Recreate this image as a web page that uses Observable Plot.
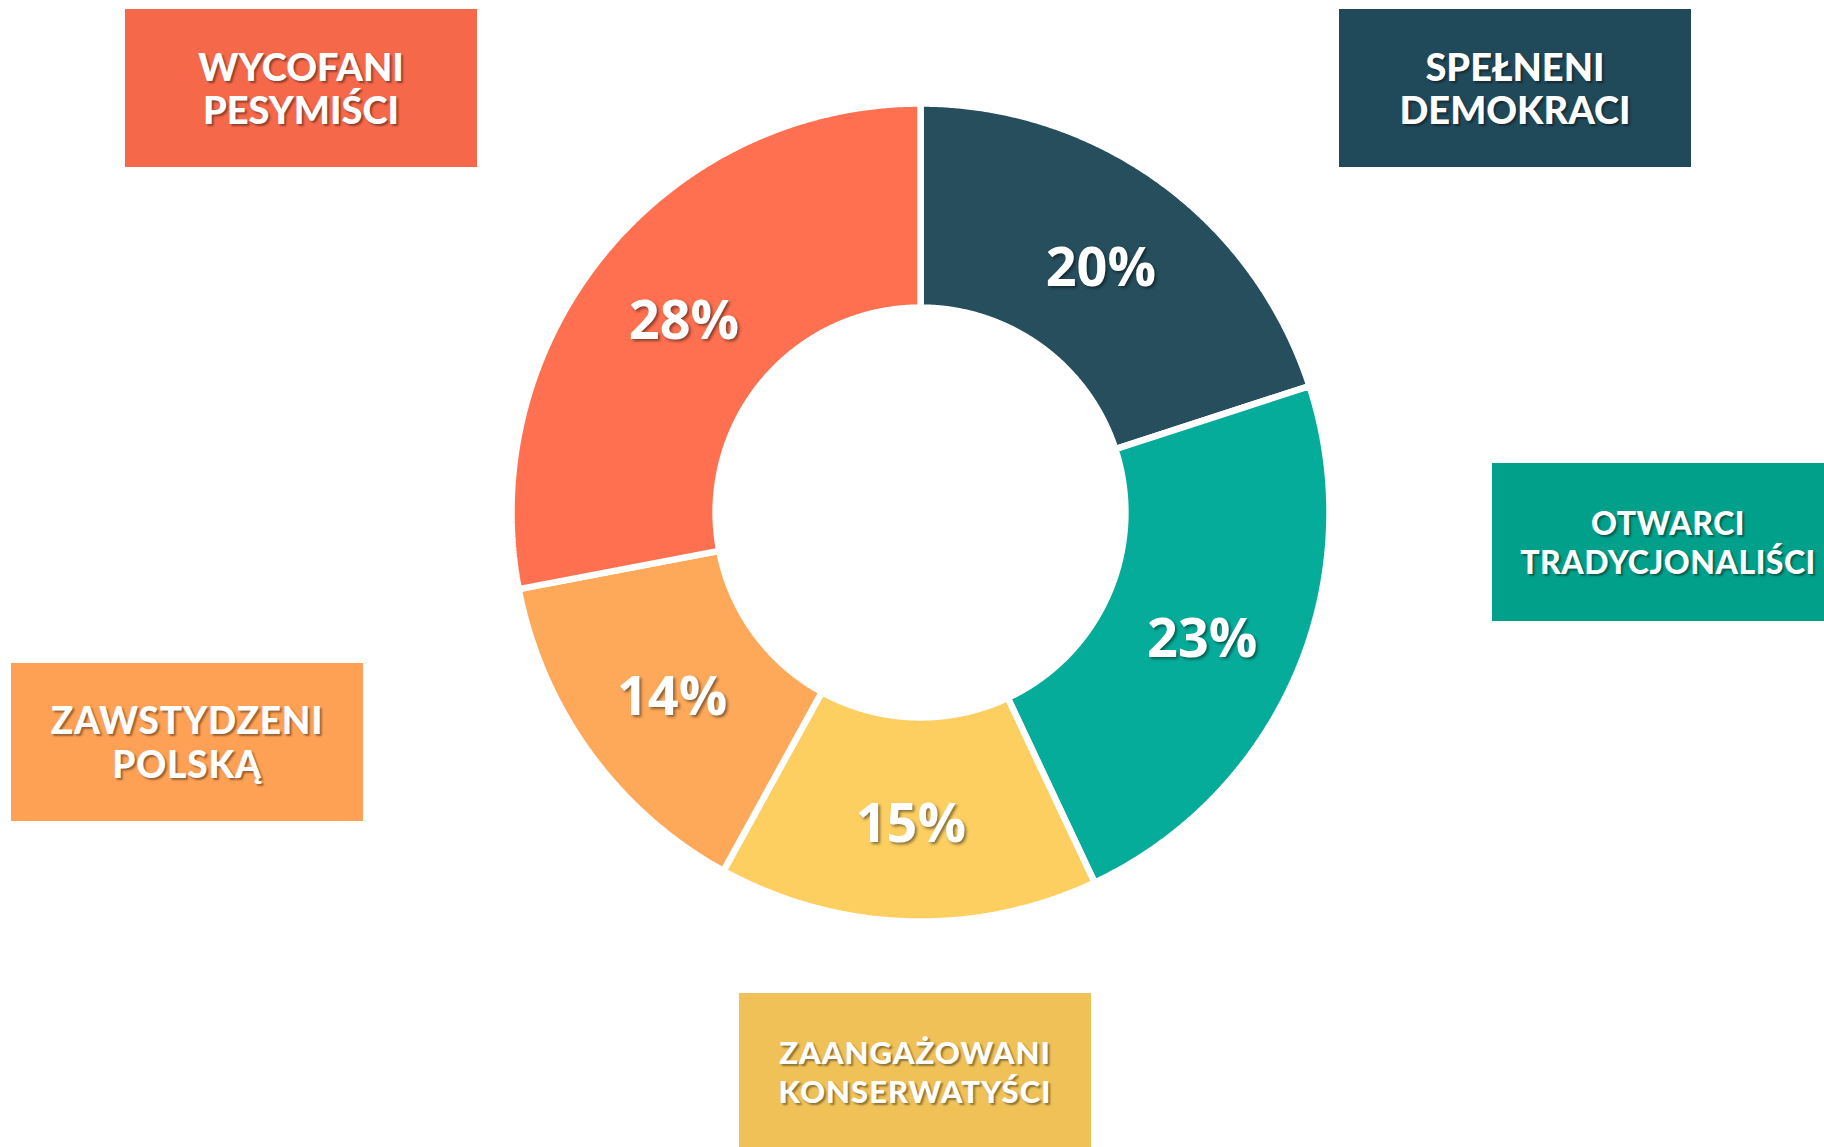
<!DOCTYPE html>
<html>
<head>
<meta charset="utf-8">
<script src="https://cdn.jsdelivr.net/npm/d3@7"></script>
<script src="https://cdn.jsdelivr.net/npm/@observablehq/plot@0.6"></script>
<style>
  html, body { margin: 0; padding: 0; background: #fff; }
  #wrap { position: relative; width: 1824px; height: 1147px; overflow: hidden; }
  #wrap svg { position: absolute; left: 0; top: 0; }
  #wrap svg g[aria-label="text"] text { text-shadow: 2px 2px 3px rgba(0,0,0,0.45); }
  .box { position: absolute; width: 352px; height: 158px; display: flex; flex-direction: column;
         align-items: center; justify-content: center; color: #fff; font-family: Lato, sans-serif;
         font-weight: 900; text-align: center; text-shadow: 2px 2px 2px rgba(0,0,0,0.4); white-space: nowrap; }
</style>
</head>
<body>
<div id="wrap"></div>
<script>
// ---- data ----
const categories = ["SPEŁNENI DEMOKRACI", "OTWARCI TRADYCJONALIŚCI", "ZAANGAŻOWANI KONSERWATYŚCI", "ZAWSTYDZENI POLSKĄ", "WYCOFANI PESYMIŚCI"];
const labelLines = [["SPEŁNENI", "DEMOKRACI"], ["OTWARCI", "TRADYCJONALIŚCI"], ["ZAANGAŻOWANI", "KONSERWATYŚCI"], ["ZAWSTYDZENI", "POLSKĄ"], ["WYCOFANI", "PESYMIŚCI"]];
const values = [20, 23, 15, 14, 28];
const sliceColors = ["#264E5C", "#05AC9A", "#FDCF61", "#FEA95A", "#FF7050"];
const boxColors = ["#20495A", "#00A08A", "#EFC157", "#FFA154", "#F5684A"];

// ---- layout (not data) ----
const boxLayout = [
  {left: 1339, top: 9,   font: 38, lh: 43, ls: 0},
  {left: 1492, top: 463, font: 32, lh: 39, ls: 0.5},
  {left: 739,  top: 993, font: 31, lh: 39, ls: 1},
  {left: 11,   top: 663, font: 37, lh: 44, ls: 0.8},
  {left: 125,  top: 9,   font: 38, lh: 43, ls: 0}
];
const innerRatio = 0.501;

// ---- geometry from data ----
const total = d3.sum(values);
const cum = d3.cumsum(values);
const slices = categories.map((c, i) => {
  const a0 = ((cum[i] - values[i]) / total) * 2 * Math.PI;
  const a1 = (cum[i] / total) * 2 * Math.PI;
  return {category: c, value: values[i], a0, a1};
});
const pts = [];
for (const s of slices) {
  const n = Math.max(2, Math.ceil((s.a1 - s.a0) / 0.005));
  const ring = [];
  for (let k = 0; k <= n; k++) { const t = s.a0 + (s.a1 - s.a0) * k / n; ring.push([Math.sin(t), Math.cos(t)]); }
  for (let k = n; k >= 0; k--) { const t = s.a0 + (s.a1 - s.a0) * k / n; ring.push([innerRatio * Math.sin(t), innerRatio * Math.cos(t)]); }
  ring.push(ring[0]);
  for (const [x, y] of ring) pts.push({category: s.category, x, y});
}
const mid = (1 + innerRatio) / 2;
const labels = slices.map(s => {
  const t = (s.a0 + s.a1) / 2;
  return {x: mid * Math.sin(t), y: mid * Math.cos(t), text: s.value + "%"};
});

const plot = Plot.plot({
  width: 1824, height: 1147,
  marginLeft: 511, marginRight: 495, marginTop: 103, marginBottom: 226,
  x: {domain: [-1, 1], axis: null},
  y: {domain: [-1, 1], axis: null},
  color: {domain: categories, range: sliceColors},
  style: {background: "transparent"},
  marks: [
    Plot.line(pts, {x: "x", y: "y", z: "category", fill: "category", stroke: "white", strokeWidth: 6.5, strokeLinejoin: "miter", curve: "linear"}),
    Plot.text(labels, {x: "x", y: "y", text: "text", fill: "white", fontSize: 54, fontWeight: 700, fontFamily: "Open Sans", dy: 5})
  ]
});
const wrap = document.getElementById("wrap");
wrap.appendChild(plot);

categories.forEach((c, i) => {
  const L = boxLayout[i];
  const div = document.createElement("div");
  div.className = "box";
  div.style.left = L.left + "px";
  div.style.top = L.top + "px";
  div.style.background = boxColors[i];
  div.style.fontSize = L.font + "px";
  div.style.lineHeight = L.lh + "px";
  div.style.letterSpacing = L.ls + "px";
  labelLines[i].forEach(t => { const s = document.createElement("div"); s.textContent = t; div.appendChild(s); });
  wrap.appendChild(div);
});
</script>
</body>
</html>
